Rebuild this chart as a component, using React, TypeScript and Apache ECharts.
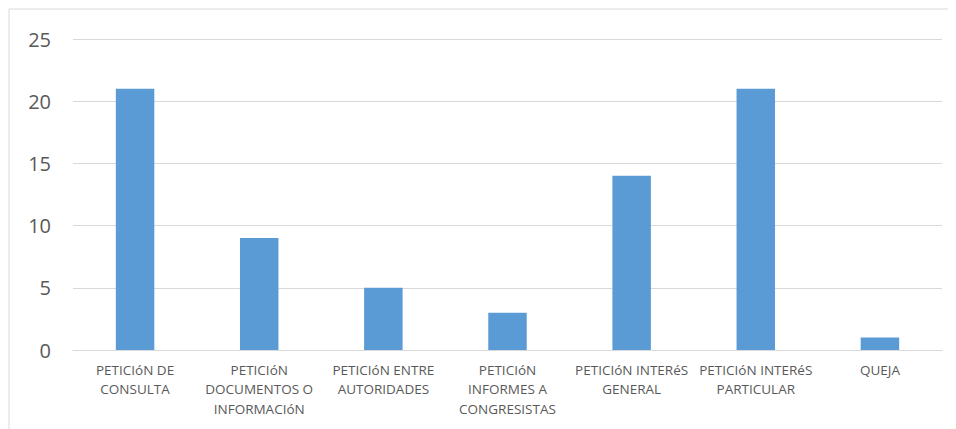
import React, { useEffect, useRef } from "react";
import * as echarts from "echarts";

const categories = [
  "PETICIóN DE\nCONSULTA",
  "PETICIóN\nDOCUMENTOS O\nINFORMACIóN",
  "PETICIóN ENTRE\nAUTORIDADES",
  "PETICIóN\nINFORMES A\nCONGRESISTAS",
  "PETICIóN INTERéS\nGENERAL",
  "PETICIóN INTERéS\nPARTICULAR",
  "QUEJA",
];
const values = [21, 9, 5, 3, 14, 21, 1];
const yTicks = { min: 0, max: 25, interval: 5 };

export default function App() {
  const ref = useRef<HTMLDivElement>(null);
  useEffect(() => {
    if (!ref.current) return;
    const chart = echarts.init(ref.current, undefined, { renderer: "svg" });
    chart.setOption({
      animation: false,
      textStyle: { fontFamily: "'Open Sans', 'Liberation Sans', sans-serif" },
      grid: { left: 65, right: 14, top: 31, bottom: 79, containLabel: false },
      graphic: [
        { type: "line", shape: { x1: 1, y1: 1, x2: 948, y2: 1 }, style: { stroke: "#d9d9d9", lineWidth: 1 } },
        { type: "line", shape: { x1: 1, y1: 1, x2: 1, y2: 421 }, style: { stroke: "#d9d9d9", lineWidth: 1 } },
      ],
      xAxis: {
        type: "category",
        data: categories,
        axisLine: { show: true, lineStyle: { color: "#d9d9d9", width: 1 } },
        axisTick: { show: false },
        axisLabel: {
          color: "#595959",
          fontSize: 13.5,
          lineHeight: 19.5,
          margin: 10,
          interval: 0,
          fontFamily: "'Open Sans', 'Liberation Sans', sans-serif",
        },
      },
      yAxis: {
        type: "value",
        min: yTicks.min,
        max: yTicks.max,
        interval: yTicks.interval,
        axisLine: { show: false },
        axisTick: { show: false },
        splitLine: { lineStyle: { color: "#d9d9d9", width: 1 } },
        axisLabel: { color: "#595959", fontSize: 20, margin: 22 },
      },
      series: [
        {
          type: "bar",
          data: values,
          barWidth: "31%",
          itemStyle: { color: "#5B9BD5" },
        },
      ],
    });
    return () => chart.dispose();
  }, []);
  return <div ref={ref} style={{ width: 948, height: 421 }} />;
}
